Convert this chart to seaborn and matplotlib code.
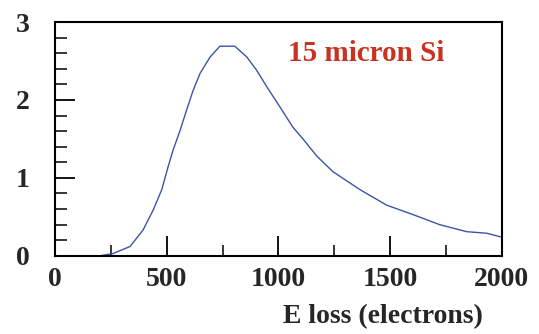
import numpy as np
import pandas as pd
import seaborn as sns
import matplotlib.pyplot as plt
from matplotlib.ticker import MultipleLocator

# energy loss spectrum
e_loss = [200, 260, 336, 394, 440, 478, 506, 529, 560, 589, 618, 649, 694, 738, 805,
          859, 903, 948, 1007, 1065, 1110, 1172, 1244, 1365, 1485, 1602, 1722, 1843, 1933, 2000]
counts = [0.0, 0.03, 0.12, 0.33, 0.59, 0.85, 1.14, 1.36, 1.61, 1.87, 2.12, 2.34, 2.55, 2.69, 2.69,
          2.55, 2.38, 2.17, 1.91, 1.65, 1.50, 1.28, 1.08, 0.85, 0.65, 0.53, 0.40, 0.31, 0.29, 0.24]

data = pd.DataFrame({"E": e_loss, "N": counts})

sns.set_style("white")
plt.rcParams['font.family'] = ['Liberation Serif', 'DejaVu Serif']
plt.rcParams['font.weight'] = 'bold'

fig = plt.figure(figsize=(5.39, 3.34), dpi=100)
ax = fig.add_axes([0.102, 0.234, 0.829, 0.700])

# the curve
sns.lineplot(x="E", y="N", data=data, ax=ax, color="#3a55a8", linewidth=1.0)

ax.set_xlim(0, 2000)
ax.set_ylim(0, 3)
ax.xaxis.set_major_locator(MultipleLocator(500))
ax.xaxis.set_minor_locator(MultipleLocator(250))
ax.yaxis.set_major_locator(MultipleLocator(1))
ax.yaxis.set_minor_locator(MultipleLocator(0.2))
ax.tick_params(which='both', bottom=True, left=True, top=False, right=False)
ax.tick_params(which='major', direction='in', length=14.5, width=1.3, color='black',
               labelsize=20, pad=8)
ax.tick_params(which='minor', direction='in', length=8, width=1.1, color='black')
ax.tick_params(axis='y', which='minor', length=8.5)
ax.tick_params(axis='y', pad=18)

for s in ax.spines.values():
    s.set_color('black')
    s.set_linewidth(1.5)

ax.set_xlabel("E loss (electrons)", fontsize=20, fontweight='bold', ha='right')
ax.xaxis.set_label_coords(0.958, -0.205)
ax.set_ylabel("")

# label in the plot
ax.text(1392, 2.6, "15 micron Si", color="#c8321e", fontsize=21, fontweight='bold',
        ha='center', va='center')

fig.savefig("out.png", dpi=100)
